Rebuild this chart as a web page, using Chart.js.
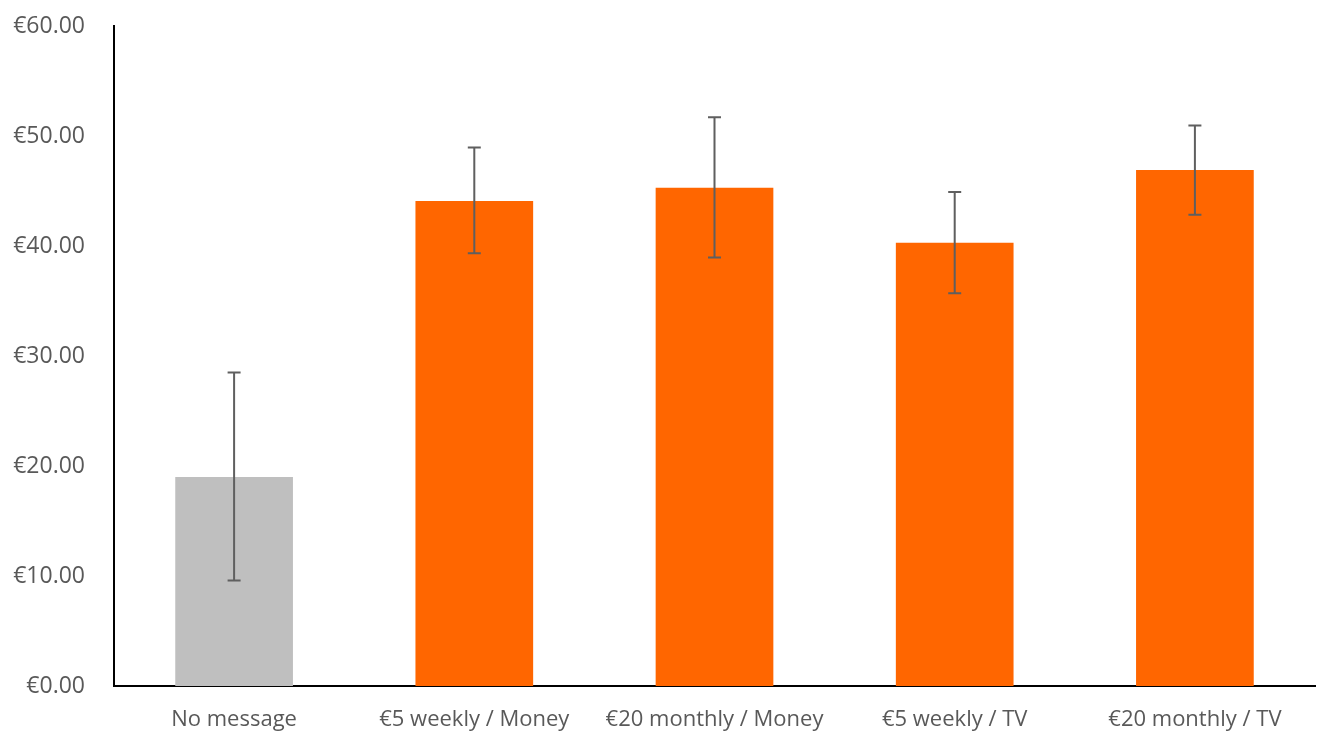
<!DOCTYPE html>
<html>
<head>
<meta charset="utf-8">
<script src="https://cdn.jsdelivr.net/npm/chart.js@4/dist/chart.umd.min.js"></script>
<style>
html,body{margin:0;padding:0;background:#fff;}
#wrap{width:1319px;height:733px;}
</style>
</head>
<body>
<div id="wrap"><canvas id="c" width="1319" height="733"></canvas></div>
<script>
const categories = ["No message", "€5 weekly / Money", "€20 monthly / Money", "€5 weekly / TV", "€20 monthly / TV"];
const means = [19.0, 44.1, 45.3, 40.3, 46.9];
const errLow = [9.6, 39.35, 38.95, 35.7, 42.85];
const errHigh = [28.5, 48.95, 51.7, 44.9, 50.95];
const barColors = ["#BFBFBF", "#FF6600", "#FF6600", "#FF6600", "#FF6600"];
const yTicks = [0, 10, 20, 30, 40, 50, 60];

const errorBarPlugin = {
  id: 'errorBars',
  afterDatasetsDraw(chart) {
    const ctx = chart.ctx;
    const meta = chart.getDatasetMeta(0);
    const y = chart.scales.y;
    ctx.save();
    ctx.strokeStyle = '#5F5F5F';
    ctx.lineWidth = 2;
    meta.data.forEach((bar, i) => {
      const x = bar.x;
      const yt = y.getPixelForValue(errHigh[i]);
      const yb = y.getPixelForValue(errLow[i]);
      ctx.beginPath();
      ctx.moveTo(x, yt); ctx.lineTo(x, yb);
      ctx.moveTo(x - 6.5, yt); ctx.lineTo(x + 6.5, yt);
      ctx.moveTo(x - 6.5, yb); ctx.lineTo(x + 6.5, yb);
      ctx.stroke();
    });
    ctx.restore();
  }
};

new Chart(document.getElementById('c'), {
  type: 'bar',
  data: {
    labels: categories,
    datasets: [{
      data: means,
      backgroundColor: barColors,
      borderWidth: 0,
      barPercentage: 0.7,
      categoryPercentage: 0.7
    }]
  },
  options: {
    responsive: false,
    animation: false,
    layout: { padding: { top: 26, right: 4, left: 0, bottom: 0 } },
    plugins: { legend: { display: false }, tooltip: { enabled: false } },
    scales: {
      x: {
        afterFit(axis) { axis.height = 47; axis.paddingLeft = 0; axis.paddingRight = 0; },
        grid: { display: false, drawTicks: false },
        border: { display: true, color: '#000000', width: 2 },
        ticks: { color: '#595959', font: { family: 'Open Sans', size: 22 }, padding: 21, maxRotation: 0 }
      },
      y: {
        min: 0, max: 60,
        afterBuildTicks(axis) { axis.ticks = yTicks.map(v => ({ value: v })); },
        afterFit(axis) { axis.width = 114; axis.paddingTop = 0; axis.paddingBottom = 0; },
        grid: { display: false, drawTicks: false },
        border: { display: true, color: '#000000', width: 2 },
        ticks: {
          color: '#595959', font: { family: 'Open Sans', size: 23 }, padding: 29,
          callback: v => '€' + Number(v).toFixed(2)
        }
      }
    }
  },
  plugins: [errorBarPlugin]
});
</script>
</body>
</html>
